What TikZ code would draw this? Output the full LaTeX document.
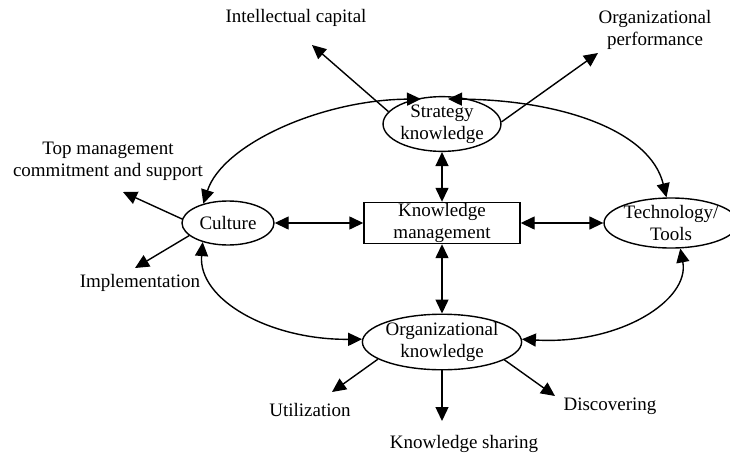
\documentclass[tikz,border=0pt]{standalone}
\usepackage{fontspec}
\setmainfont{Liberation Serif}
\usetikzlibrary{arrows.meta,shapes.geometric}
\begin{document}
\begin{tikzpicture}[x=1pt,y=-1pt,
  font=\fontsize{19}{22}\selectfont,
  lw/.style={line width=1.4pt},
  arr/.style={lw,-{Triangle[length=14pt,width=13pt]}},
  darr/.style={lw,{Triangle[length=14pt,width=13pt]}-{Triangle[length=14pt,width=13pt]}},
  oval/.style={ellipse,draw,lw,inner sep=0pt,align=center},
  lbl/.style={align=center,inner sep=0pt}]
\useasboundingbox (0,0) rectangle (730,455);
% nodes
\node[oval,minimum width=112pt,minimum height=46pt] (sk) at (442,124) {Strategy\\knowledge};
\node[oval,minimum width=92pt,minimum height=44pt] (cul) at (228,223) {Culture};
\node[draw,lw,rectangle,minimum width=156pt,minimum height=41pt,inner sep=0pt,align=center] (km) at (442,223) {Knowledge\\management};
\node[oval,minimum width=116pt,minimum height=46pt] (tech) at (671,223) {Technology/\\Tools};
\node[oval,minimum width=146pt,minimum height=50pt] (org) at (442,342) {Organizational\\knowledge};
% labels
\node[lbl] (ic) at (296,18) {Intellectual capital};
\node[lbl] (op) at (655,30) {Organizational\\performance};
\node[lbl] (tm) at (108,161) {Top management\\commitment and support};
\node[lbl] (im) at (140,283) {Implementation};
\node[lbl] (ut) at (310,410) {Utilization};
\node[lbl] (ks) at (464,444) {Knowledge sharing};
\node[lbl] (di) at (610,406) {Discovering};
% free ends
\coordinate (icT) at (312,45);
\coordinate (opT) at (598,53);
\coordinate (tmT) at (123,192);
\coordinate (imT) at (135,268);
\coordinate (utT) at (332,392);
\coordinate (ksT) at (442,421);
\coordinate (diT) at (555,396);
\coordinate (skL) at (421,99);
\coordinate (skR) at (448,99);
% straight double arrows
\draw[darr] (sk.south) -- (km.north);
\draw[darr] (km.south) -- (org.north);
\draw[darr] (cul.east) -- (km.west);
\draw[darr] (km.east) -- (tech.west);
% outward arrows
\draw[arr] (sk.167) -- (icT);
\draw[arr] (sk.2) -- (opT);
\draw[arr] (cul.175) -- (tmT);
\draw[arr] (cul.198) -- (imT);
\draw[arr] (org.195) -- (utT);
\draw[arr] (org.south) -- (ksT);
\draw[arr] (org.-16) -- (diT);
% curved double arrows
\draw[darr] (cul.142) .. controls (222,145) and (320,100) .. (skL);
\draw[darr] (skR) .. controls (560,100) and (650,130) .. (tech.100);
\draw[darr] (cul.217) .. controls (198,300) and (270,340) .. (org.178);
\draw[darr] (tech.-70) .. controls (690,300) and (620,345) .. (org.2);
\end{tikzpicture}
\end{document}
